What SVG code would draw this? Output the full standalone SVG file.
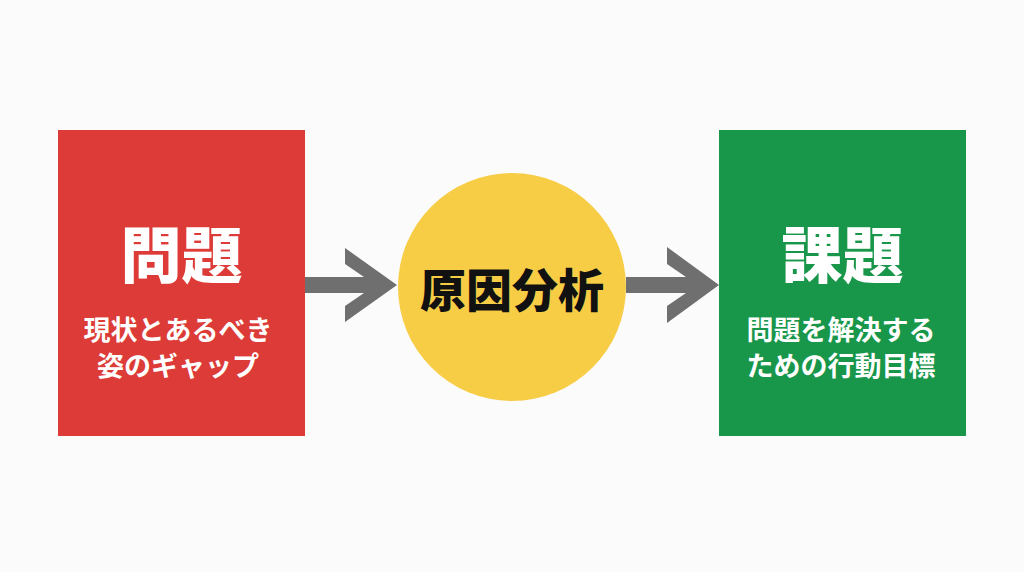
<svg xmlns="http://www.w3.org/2000/svg" width="1024" height="572" viewBox="0 0 1024 572">
<style>
text{font-family:"Noto Sans CJK JP","Noto Sans CJK SC",sans-serif;text-anchor:middle;dominant-baseline:central}
.t{font-size:61px;font-weight:900;fill:#fff}
.s{font-size:27px;font-weight:700;fill:#fff}
.c{font-size:46px;font-weight:900;fill:#111}
.arrow{fill:#6f6f6f}
</style>
<rect width="1024" height="572" fill="#fbfbfb"/>
<g id="connectors">
<polygon class="arrow" points="305,277 364,277 345,264 345,248 397,285 345,322 345,306 364,293 305,293"/>
<polygon class="arrow" points="626,277 686,277 667,264 667,247 719,285 667,323 667,306 686,293 626,293"/>
</g>
<g id="problem">
<rect x="58" y="130" width="247" height="306" fill="#dc3b37"/>
<text class="t" x="181.5" y="251">問題</text>
<text class="s" x="178" y="328">現状とあるべき</text>
<text class="s" x="178" y="364">姿のギャップ</text>
</g>
<g id="analysis">
<circle cx="512" cy="287" r="114" fill="#f7cd46"/>
<text class="c" x="512" y="287">原因分析</text>
</g>
<g id="task">
<rect x="719" y="130" width="247" height="306" fill="#18964a"/>
<text class="t" x="842.5" y="251">課題</text>
<text class="s" x="841" y="328">問題を解決する</text>
<text class="s" x="841" y="364">ための行動目標</text>
</g>
</svg>
